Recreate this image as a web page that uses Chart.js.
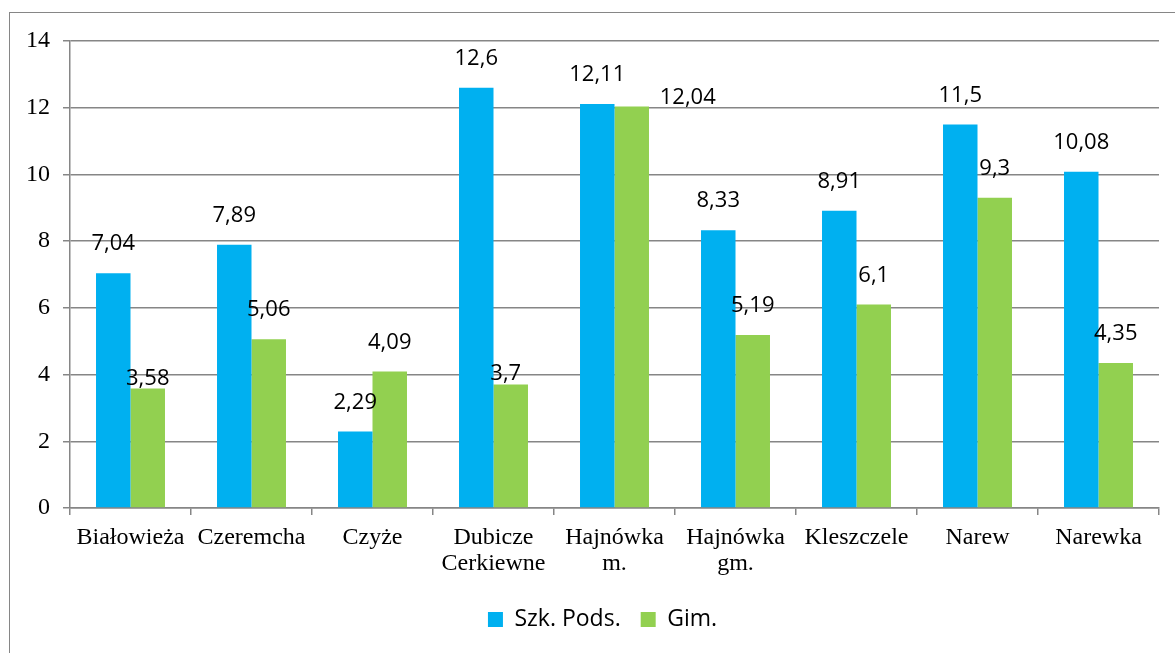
<!DOCTYPE html>
<html>
<head>
<meta charset="utf-8">
<script src="https://cdn.jsdelivr.net/npm/chart.js@4.4.1/dist/chart.umd.min.js"></script>
<style>
  html,body{margin:0;padding:0;background:#fff;overflow:hidden;}
  #frame{position:absolute;left:9px;top:12px;width:1300px;height:800px;border:1.5px solid #868686;}
  #wrap{position:absolute;left:0;top:0;width:1175px;height:653px;}
</style>
</head>
<body>
<div id="frame"></div>
<div id="wrap"><canvas id="szkChart"></canvas></div>
<script>
const gminy = ["Białowieża","Czeremcha","Czyże",["Dubicze","Cerkiewne"],["Hajnówka","m."],["Hajnówka","gm."],"Kleszczele","Narew","Narewka"];
const szkPods = [7.04,7.89,2.29,12.6,12.11,8.33,8.91,11.5,10.08];
const gim = [3.58,5.06,4.09,3.7,12.04,5.19,6.1,9.3,4.35];
const yTicks = [0,2,4,6,8,10,12,14];

// a few labels sit lower / aside in the original
const nudge = {
  "1-0": {dy: 19, dx: 0},
  "1-3": {dy: 18, dx: -5},
  "1-4": {dy: 20, dx: 56},
};

const fmt = v => String(v).replace(".", ",");

const labelPlugin = {
  id: "valLabels",
  afterLayout(chart) {
    // legend in the original is centred on the whole frame, a bit right of the plot
    const lg = chart.legend;
    if (lg) { lg.left += 23; lg.right += 23; }
  },
  afterDatasetsDraw(chart) {
    const ctx = chart.ctx;
    ctx.save();
    ctx.font = "22px 'Open Sans', sans-serif";
    ctx.fillStyle = "#000";
    ctx.textAlign = "center";
    ctx.textBaseline = "middle";
    chart.data.datasets.forEach((ds, di) => {
      chart.getDatasetMeta(di).data.forEach((bar, i) => {
        const n = nudge[di + "-" + i] || {dy: 0, dx: 0};
        ctx.fillText(fmt(ds.data[i]), bar.x + n.dx, bar.y - 29 + n.dy);
      });
    });
    ctx.restore();
  }
};

const el = document.getElementById("szkChart");
new Chart(el, {
  type: "bar",
  data: {
    labels: gminy,
    datasets: [
      {label: "Szk. Pods.", data: szkPods, backgroundColor: "#00B0F0"},
      {label: "Gim.", data: gim, backgroundColor: "#92D050"}
    ]
  },
  options: {
    responsive: true,
    maintainAspectRatio: false,
    animation: false,
    datasets: {bar: {barPercentage: 1, categoryPercentage: 0.57}},
    layout: {padding: {left: 0, right: 16, top: 41, bottom: 12}},
    plugins: {
      tooltip: {enabled: false},
      legend: {
        position: "bottom",
        labels: {
          boxWidth: 15, boxHeight: 15, padding: 20,
          color: "#000",
          font: {family: "'Open Sans', sans-serif", size: 23}
        }
      }
    },
    scales: {
      x: {
        grid: {offset: true, drawOnChartArea: false, color: "#868686", tickLength: 7, lineWidth: 1.5},
        border: {color: "#868686", width: 1.5},
        ticks: {color: "#000", padding: 10, maxRotation: 0, autoSkip: false,
          font: {family: "'Liberation Serif', serif", size: 24, lineHeight: 1.08}},
        afterFit: s => { s.height = 80; }
      },
      y: {
        min: 0, max: 14,
        afterBuildTicks: s => { s.ticks = yTicks.map(v => ({value: v})); },
        grid: {color: "#868686", tickLength: 7, lineWidth: 1.5},
        border: {color: "#868686", width: 1.5},
        ticks: {color: "#000", padding: 13,
          font: {family: "'Liberation Serif', serif", size: 24}},
        afterFit: s => { s.width = 70; }
      }
    }
  },
  plugins: [labelPlugin]
});
</script>
</body>
</html>
